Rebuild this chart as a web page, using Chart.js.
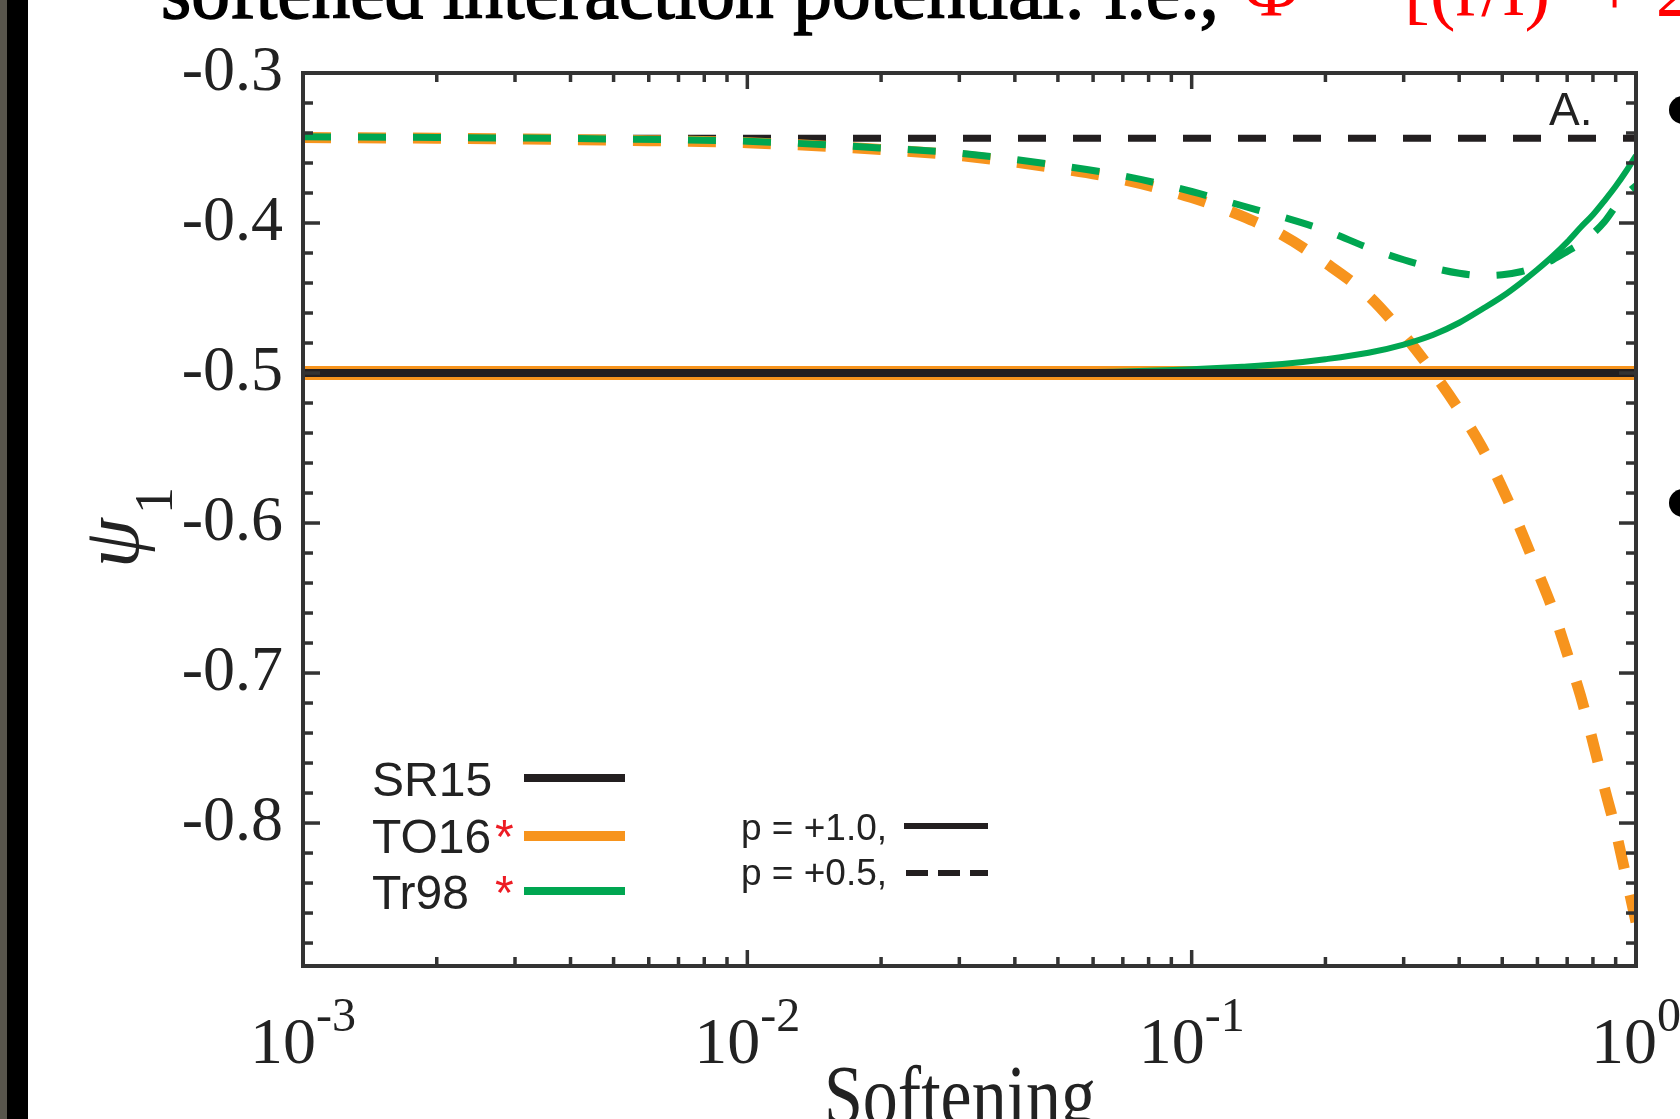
<!DOCTYPE html>
<html>
<head>
<meta charset="utf-8">
<script src="https://cdn.jsdelivr.net/npm/chart.js@4.4.1/dist/chart.umd.min.js"></script>
<style>
  html, body { margin: 0; padding: 0; background: #fff; overflow: hidden; }
  canvas { display: block; }
</style>
</head>
<body>
<canvas id="c" width="1680" height="1119"></canvas>
<script>
const softening = [0.001, 0.002, 0.005, 0.01, 0.02, 0.03, 0.05, 0.07, 0.1, 0.13, 0.16, 0.2, 0.25, 0.3,
  0.35, 0.4, 0.45, 0.5, 0.55, 0.6, 0.65, 0.7, 0.75, 0.8, 0.85, 0.9, 0.95, 1.0];

// Tr98, p = +1.0 (green solid)
const tr98P10 = [-0.5, -0.5, -0.5, -0.5, -0.5, -0.5, -0.4995, -0.499, -0.4975, -0.4958, -0.494, -0.4908, -0.4865, -0.481,
  -0.4745, -0.4665, -0.4575, -0.449, -0.44, -0.431, -0.422, -0.4127, -0.403, -0.3945, -0.385, -0.3755, -0.3655, -0.355];
// Tr98, p = +0.5 (green dashed)
const tr98P05 = [-0.3425, -0.343, -0.344, -0.3455, -0.35, -0.3535, -0.3615, -0.3685, -0.379, -0.3885, -0.396, -0.405, -0.4165, -0.4245,
  -0.43, -0.4335, -0.435, -0.4345, -0.4325, -0.429, -0.4245, -0.419, -0.4135, -0.407, -0.399, -0.389, -0.381, -0.375];
// TO16, p = +0.5 (orange dashed)
const to16P05 = [-0.343, -0.3435, -0.3448, -0.3465, -0.351, -0.355, -0.3635, -0.371, -0.383, -0.3955, -0.408, -0.4265, -0.4485, -0.4744,
  -0.4998, -0.5247, -0.5495, -0.5765, -0.6045, -0.632, -0.658, -0.687, -0.715, -0.746, -0.777, -0.805, -0.836, -0.866];

// flat results
const flatX = [0.001, 1];
const sr15P10 = [-0.5, -0.5];
const to16P10 = [-0.5, -0.5];
const sr15P05 = [-0.3435, -0.3435];

const yTicks = [-0.3, -0.4, -0.5, -0.6, -0.7, -0.8];
const xDecades = [-3, -2, -1, 0];

const BLACK = '#231f20', ORANGE = '#f7941d', GREEN = '#00a651', RED = '#ed1c24', AXIS = '#333333';
const SERIF = '"Liberation Serif", "Times New Roman", serif';
const SANS = '"Liberation Sans", Arial, sans-serif';

function pts(xs, ys){ return xs.map((x, i) => ({ x, y: ys[i] })); }

function line(ctx, x1, y1, x2, y2){
  ctx.beginPath(); ctx.moveTo(x1, y1); ctx.lineTo(x2, y2); ctx.stroke();
}

const decor = {
  id: 'decor',
  beforeDraw(chart){
    const ctx = chart.ctx;
    ctx.save();
    ctx.fillStyle = '#fff'; ctx.fillRect(0, 0, chart.width, chart.height);
    // slide edge on the left
    ctx.fillStyle = '#58554c'; ctx.fillRect(0, 0, 7, chart.height);
    ctx.fillStyle = '#000'; ctx.fillRect(7, 0, 21, chart.height);

    // slide heading, mostly above the picture
    const head = 'softened interaction potential: i.e.,';
    ctx.font = `100px ${SERIF}`;
    const size = 100 * 1058 / ctx.measureText(head).width;
    ctx.font = `${size}px ${SERIF}`;
    ctx.fillStyle = '#000';
    ctx.textAlign = 'left'; ctx.textBaseline = 'alphabetic';
    ctx.lineWidth = 1.5; ctx.strokeStyle = '#000';
    ctx.fillText(head, 161, 18);
    ctx.strokeText(head, 161, 18);
    ctx.fillStyle = '#ff0000';
    ctx.fillText('Φ =', 1243, 15);
    ctx.fillText('[(r/l)² + 2ε²]', 1404, 15);

    // bullets of the slide text on the right
    ctx.fillStyle = '#000';
    [110, 503].forEach(y => { ctx.beginPath(); ctx.arc(1683, y, 14, 0, Math.PI * 2); ctx.fill(); });
    ctx.restore();
  },
  afterDraw(chart){
    const ctx = chart.ctx;
    const { left, right, top, bottom } = chart.chartArea;
    const xs = chart.scales.x, ys = chart.scales.y;
    ctx.save();
    ctx.strokeStyle = AXIS; ctx.lineCap = 'butt';

    // inward ticks on all four sides
    ctx.lineWidth = 3.5;
    xDecades.forEach(d => {
      for (let m = 1; m <= 9; m++) {
        const v = m * Math.pow(10, d);
        if (v > 1.0001) break;
        const px = xs.getPixelForValue(v);
        const len = m === 1 ? 16 : 9;
        line(ctx, px, bottom, px, bottom - len);
        line(ctx, px, top, px, top + len);
      }
    });
    for (let k = 0; k < 40; k++) {
      const v = -0.3 - 0.02 * k;
      if (v < ys.min) break;
      const py = ys.getPixelForValue(v);
      const len = k % 5 === 0 ? 17 : 10;
      line(ctx, left, py, left + len, py);
      line(ctx, right, py, right - len, py);
    }
    ctx.lineWidth = 4;
    ctx.strokeRect(left, top, right - left, bottom - top);

    // y tick labels
    ctx.fillStyle = '#222';
    ctx.font = `64px ${SERIF}`;
    ctx.textAlign = 'right'; ctx.textBaseline = 'middle';
    yTicks.forEach(v => ctx.fillText(v.toFixed(1), 283, ys.getPixelForValue(v)));

    // x tick labels 10^d
    ctx.textAlign = 'left'; ctx.textBaseline = 'alphabetic';
    xDecades.forEach(d => {
      const px = xs.getPixelForValue(Math.pow(10, d));
      ctx.font = `66px ${SERIF}`;
      const w10 = ctx.measureText('10').width;
      ctx.font = `48px ${SERIF}`;
      const ws = ctx.measureText(String(d)).width;
      const x0 = px - (w10 + ws) / 2;
      ctx.font = `66px ${SERIF}`;
      ctx.fillText('10', x0, 1063);
      ctx.font = `48px ${SERIF}`;
      ctx.fillText(String(d), x0 + w10, 1031);
    });

    // x axis title
    ctx.save();
    ctx.translate(960, 1124); ctx.scale(1, 1.2);
    ctx.font = `70px ${SERIF}`; ctx.textAlign = 'center';
    ctx.fillText('Softening', 0, 0);
    ctx.restore();

    // y axis title: psi subscript 1, rotated
    ctx.save();
    ctx.translate(138, 568); ctx.rotate(-Math.PI / 2);
    ctx.font = `italic 80px ${SERIF}`; ctx.textAlign = 'left';
    ctx.fillText('ψ', 0, 0);
    ctx.font = `54px ${SERIF}`;
    ctx.fillText('1', 54, 34);
    ctx.restore();

    // panel letter
    ctx.font = `46px ${SANS}`;
    ctx.fillStyle = '#222';
    ctx.fillText('A.', 1549, 125);

    // legend: models
    const rows = [
      { name: 'SR15', star: false, color: BLACK, base: 796, ly: 778, w: 8 },
      { name: 'TO16', star: true, color: ORANGE, base: 853, ly: 836, w: 10 },
      { name: 'Tr98', star: true, color: GREEN, base: 909, ly: 891, w: 8 }
    ];
    rows.forEach(r => {
      ctx.font = `48px ${SANS}`;
      ctx.fillStyle = '#222';
      ctx.fillText(r.name, 372, r.base);
      if (r.star) { ctx.fillStyle = RED; ctx.fillText('*', 495, r.base); }
      ctx.strokeStyle = r.color; ctx.lineWidth = r.w; ctx.setLineDash([]);
      line(ctx, 524, r.ly, 625, r.ly);
    });

    // legend: line styles
    ctx.font = `37px ${SANS}`;
    ctx.fillStyle = '#222';
    ctx.fillText('p = +1.0,', 741, 840);
    ctx.fillText('p = +0.5,', 741, 885);
    ctx.strokeStyle = BLACK; ctx.lineWidth = 6;
    line(ctx, 904, 826, 988, 826);
    ctx.setLineDash([22, 10]);
    line(ctx, 906, 873, 988, 873);
    ctx.setLineDash([]);
    ctx.restore();
  }
};

function build(){
  const common = { pointRadius: 0, pointHoverRadius: 0, fill: false, cubicInterpolationMode: 'monotone' };
  new Chart(document.getElementById('c'), {
    type: 'line',
    data: {
      datasets: [
        { ...common, label: 'SR15 p=+1.0', data: pts(flatX, sr15P10), borderColor: BLACK, borderWidth: 8, order: 0 },
        { ...common, label: 'Tr98 p=+1.0', data: pts(softening, tr98P10), borderColor: GREEN, borderWidth: 6, order: 1 },
        { ...common, label: 'Tr98 p=+0.5', data: pts(softening, tr98P05), borderColor: GREEN, borderWidth: 7, borderDash: [28, 27], order: 3 },
        { ...common, label: 'TO16 p=+1.0', data: pts(flatX, to16P10), borderColor: ORANGE, borderWidth: 14, order: 4 },
        { ...common, label: 'TO16 p=+0.5', data: pts(softening, to16P05), borderColor: ORANGE, borderWidth: 11, borderDash: [28, 27], order: 5 },
        { ...common, label: 'SR15 p=+0.5', data: pts(flatX, sr15P05), borderColor: BLACK, borderWidth: 7, borderDash: [28, 27], order: 6 }
      ]
    },
    options: {
      responsive: false,
      animation: false,
      devicePixelRatio: 1,
      layout: { padding: { left: 303, right: 44, top: 73, bottom: 153 } },
      plugins: { legend: { display: false }, tooltip: { enabled: false } },
      scales: {
        x: { type: 'logarithmic', min: 0.001, max: 1, display: false },
        y: { type: 'linear', min: -0.8953, max: -0.3, display: false }
      }
    },
    plugins: [decor]
  });
}

Promise.all([
  document.fonts.load(`64px ${SERIF}`),
  document.fonts.load(`italic 64px ${SERIF}`),
  document.fonts.load(`46px ${SANS}`)
]).catch(() => {}).then(build);
</script>
</body>
</html>
